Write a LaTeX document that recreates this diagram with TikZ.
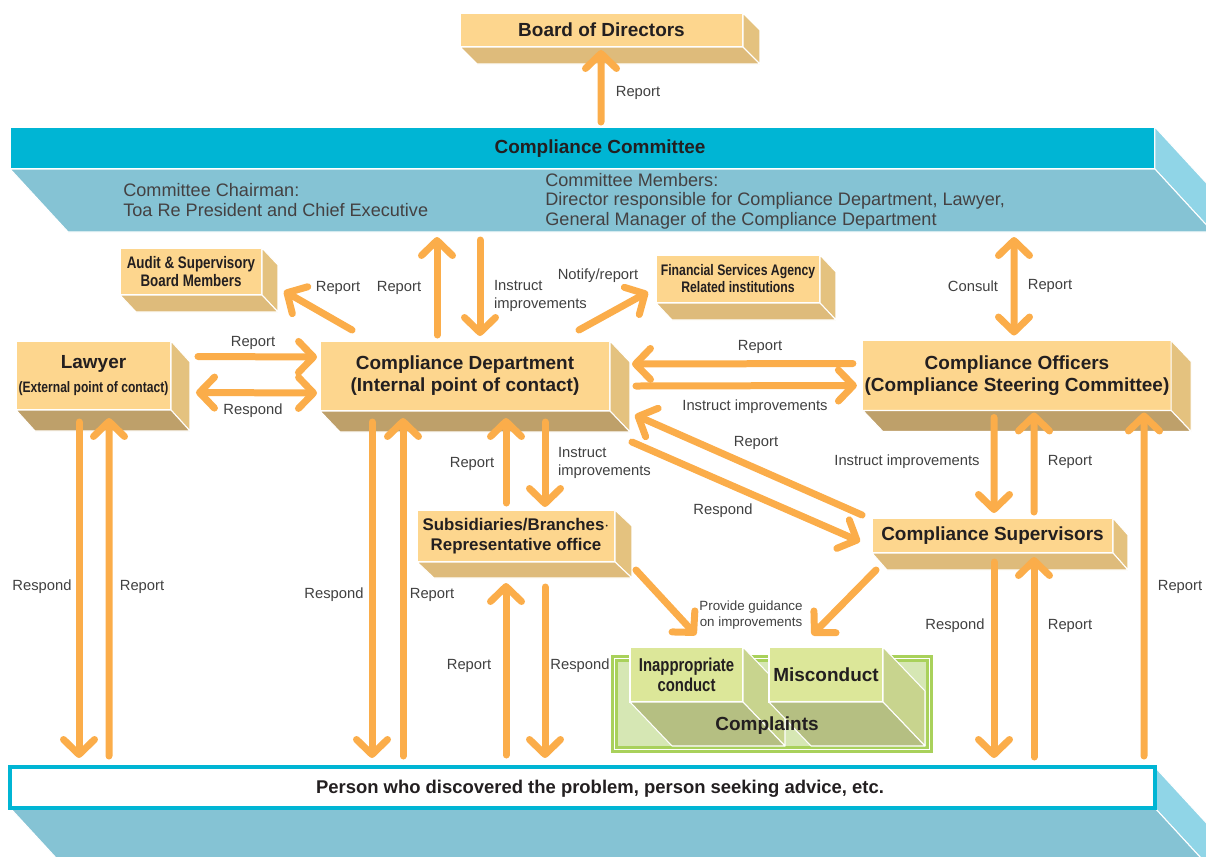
\documentclass[tikz,border=0pt]{standalone}
\usepackage{fontspec}
\setmainfont{Liberation Sans}
\newfontfamily\narrowfont{Liberation Sans}[FakeStretch=0.8]
\usetikzlibrary{arrows.meta,calc,backgrounds}

\definecolor{arrowc}{RGB}{251,173,74}
\definecolor{boxfront}{RGB}{253,214,142}
\definecolor{boxside}{RGB}{228,194,127}
\definecolor{boxbase}{RGB}{222,187,123}
\definecolor{boxbasedark}{RGB}{190,160,106}
\definecolor{cmtop}{RGB}{0,181,212}
\definecolor{cmbase}{RGB}{133,195,212}
\definecolor{cmside}{RGB}{144,213,231}
\definecolor{grborder}{RGB}{169,209,91}
\definecolor{grfill}{RGB}{214,231,180}
\definecolor{grfront}{RGB}{220,231,153}
\definecolor{grside}{RGB}{200,212,142}
\definecolor{grbase}{RGB}{181,191,130}
\definecolor{ink}{RGB}{35,31,32}
\definecolor{labink}{RGB}{64,64,64}

\newcommand{\slab}[5]{%
    \filldraw[fill=#4, draw=white, line width=0.6pt, line join=round]
        (#1.north east) -- ++(#2,#3) -- ($(#1.south east)+(#2,#3)$) -- (#1.south east) -- cycle;
    \filldraw[fill=#5, draw=white, line width=0.6pt, line join=round]
        (#1.south west) -- ($(#1.south west)+(#2,#3)$) -- ($(#1.south east)+(#2,#3)$) -- (#1.south east) -- cycle;
}

\begin{document}
\begin{tikzpicture}[
            x=0.02cm, y=-0.02cm,
            chev/.tip={Straight Barb[length=0.3cm,width=0.62cm,round]},
            arr/.style={draw=arrowc, line width=0.14cm, line cap=round, -chev},
            orgbox/.style={fill=boxfront, draw=white, line width=0.6pt, outer sep=0pt, inner sep=1pt,
                align=center, text=ink, font=\fontsize{10.8}{12.6}\selectfont\bfseries},
            narrowbox/.style={orgbox, font=\narrowfont\fontsize{#1}{#1}\selectfont\bfseries},
            greenbox/.style={orgbox, fill=grfront},
            lab/.style={text=labink, inner sep=1pt, font=\fontsize{8.4}{10}\selectfont},
            cmtext/.style={text=ink!85, inner sep=0pt, align=left, anchor=west,
                font=\fontsize{10.3}{11.2}\selectfont}
        ]
        \useasboundingbox (0,0) rectangle (1206,856);

        \node[orgbox, minimum width=5.66cm, minimum height=0.68cm] (board) at (601.5,30) {Board of Directors};
        \slab{board}{17}{17}{boxside}{boxbase}

        \node[orgbox, fill=cmtop, minimum width=22.9cm, minimum height=0.84cm] (committee) at (582.5,148) {};
        \slab{committee}{58}{63}{cmside}{cmbase}
        \node[text=ink, font=\fontsize{10.8}{12.6}\selectfont\bfseries] (cmname) at (600,149) {Compliance Committee};
        \node[cmtext] (chair) at (123,200) {Committee Chairman:\\Toa Re President and Chief Executive};
        \node[cmtext] (members) at (545,201) {Committee Members:\\Director responsible for Compliance Department, Lawyer,\\General Manager of the Compliance Department};

        \node[narrowbox=9.5, minimum width=2.84cm, minimum height=0.94cm] (audit) at (191,271.5) {Audit \& Supervisory\\[1pt]Board Members};
        \slab{audit}{16}{17}{boxside}{boxbase}

        \node[narrowbox=8.7, minimum width=3.28cm, minimum height=0.96cm] (fsa) at (738,279) {Financial Services Agency\\[1pt]Related institutions};
        \slab{fsa}{16}{17}{boxside}{boxbase}

        \node[orgbox, minimum width=3.1cm, minimum height=1.38cm] (lawyer) at (93.5,375.5)
            {Lawyer\\[1pt]{\narrowfont\fontsize{8.6}{10}\selectfont(External point of contact)}};
        \slab{lawyer}{19}{21}{boxside}{boxbasedark}

        \node[orgbox, minimum width=5.8cm, minimum height=1.4cm] (cd) at (465,376)
            {Compliance Department\\(Internal point of contact)};
        \slab{cd}{20}{21}{boxside}{boxbasedark}

        \node[orgbox, minimum width=5.8cm, minimum height=1.4cm] (officers) at (1017,375.5)
            {Compliance Officers\\(Compliance Steering Committee)};
        \slab{officers}{20}{21}{boxside}{boxbasedark}

        \node[orgbox, font=\fontsize{9.6}{11.2}\selectfont\bfseries, minimum width=3.96cm, minimum height=1.04cm] (subs) at (516,536)
            {Subsidiaries/Branches$\cdot$\\Representative office};
        \slab{subs}{17}{16}{boxside}{boxbase}

        \node[orgbox, minimum width=4.82cm, minimum height=0.7cm] (sup) at (992.5,535.5) {Compliance Supervisors};
        \slab{sup}{15}{17}{boxside}{boxbase}

        \node[fill=grfill, draw=grborder, line width=0.14cm, minimum width=6.3cm, minimum height=1.82cm] (frame) at (772,704) {};
        \draw[white, line width=0.6pt] ($(frame.south west)+(3.5,-3.5)$) rectangle ($(frame.north east)+(-3.5,3.5)$);
        \node[greenbox, font=\narrowfont\fontsize{10.6}{11.5}\selectfont\bfseries, minimum width=2.26cm, minimum height=1.1cm] (inapp) at (686.5,674.5)
            {Inappropriate\\conduct};
        \slab{inapp}{42}{44}{grside}{grbase}
        \node[greenbox, minimum width=2.28cm, minimum height=1.1cm] (misc) at (826,674.5) {Misconduct};
        \slab{misc}{42}{44}{grside}{grbase}
        \node[text=ink, font=\fontsize{10.8}{12.6}\selectfont\bfseries] (complaints) at (767,726) {Complaints};

        \node[fill=white, draw=cmtop, line width=0.08cm, outer sep=0pt, minimum width=22.9cm, minimum height=0.82cm] (person) at (582.5,787.5) {};
        \begin{scope}[on background layer]
            \slab{person}{58}{63}{cmside}{cmbase}
        \end{scope}
        \node[text=ink, font=\fontsize{10.5}{12}\selectfont\bfseries] (persontext) at (600,789)
            {Person who discovered the problem, person seeking advice, etc.};

        \draw[arr] ($(committee.north)+(18.5,-5)$) -- ($(board.south)+(-0.5,3)$);
        \draw[arr] ($(cd.north)+(-28,-6)$) -- ($(committee.south)+(-145.5,68)$);
        \draw[arr] ($(committee.south)+(-102.5,71)$) -- ($(cd.north)+(15,-5)$);
        \draw[arr] ($(cd.north west)+(32,-11)$) -- ($(audit.south east)+(22,-4)$);
        \draw[arr] ($(cd.north east)+(-31,-11)$) -- ($(fsa.south west)+(-8,-11)$);
        \draw[arr] ($(lawyer.east)+(27,-19)$) -- ($(cd.west)+(-3,-19)$);
        \draw[arr, chev-chev] ($(lawyer.east)+(25,17)$) -- ($(cd.west)+(-3,17)$);
        \draw[arr, chev-chev] ($(committee.south)+(431.5,68)$) -- ($(officers.north)+(-3,-5)$);
        \draw[arr] ($(officers.west)+(-10,-12)$) -- ($(cd.east)+(22,-12)$);
        \draw[arr] ($(cd.east)+(26,10)$) -- ($(officers.west)+(-6,10)$);
        \draw[arr] ($(sup.north west)+(-10,-3)$) -- ($(cd.south east)+(25,4)$);
        \draw[arr] ($(cd.south east)+(22,31)$) -- ($(sup.west)+(-12,6)$);
        \draw[arr] ($(officers.south)+(-23,7)$) -- ($(sup.north)+(1.5,-5)$);
        \draw[arr] ($(sup.north)+(41.5,-6)$) -- ($(officers.south)+(17,2)$);
        \draw[arr] ($(person.north)+(561.5,-11)$) -- ($(officers.south)+(127,2)$);
        \draw[arr] ($(sup.south)+(1.5,9)$) -- ($(person.north)+(411.5,-9)$);
        \draw[arr] ($(person.north)+(451.5,-10)$) -- ($(sup.south)+(41.5,4)$);
        \draw[arr] ($(lawyer.south)+(-14.5,12)$) -- ($(person.north)+(-503.5,-9)$);
        \draw[arr] ($(person.north)+(-473.5,-11)$) -- ($(lawyer.south)+(15.5,8)$);
        \draw[arr] ($(cd.south)+(-93,11)$) -- ($(person.north)+(-210.5,-9)$);
        \draw[arr] ($(person.north)+(-179.5,-11)$) -- ($(cd.south)+(-62,7)$);
        \draw[arr] ($(subs.north)+(-10,-7)$) -- ($(cd.south)+(41,7)$);
        \draw[arr] ($(cd.south)+(80,11)$) -- ($(subs.north)+(29,-3)$);
        \draw[arr] ($(person.north)+(-76.5,-12)$) -- ($(subs.south)+(-10,21)$);
        \draw[arr] ($(subs.south)+(29,25)$) -- ($(person.north)+(-37.5,-9)$);
        \draw[arr] ($(subs.south east)+(21,8)$) -- ($(inapp.north)+(9.5,-12)$);
        \draw[arr] ($(sup.south west)+(4,17)$) -- ($(misc.north)+(-14,-12)$);

        \node[lab] (l-board) at (638,93) {Report};
        \node[lab] (l-cdup) at (399,288) {Report};
        \node[lab, anchor=west, align=left] (l-cddown) at (492,296) {Instruct\\improvements};
        \node[lab] (l-audit) at (338,288) {Report};
        \node[lab] (l-fsa) at (598,276) {Notify/report};
        \node[lab] (l-lawrep) at (253,343) {Report};
        \node[lab] (l-lawresp) at (253,411) {Respond};
        \node[lab] (l-consult) at (973,286) {Consult};
        \node[lab] (l-offcm) at (1050,286) {Report};
        \node[lab] (l-offrep) at (760,347) {Report};
        \node[lab] (l-offins) at (755,407) {Instruct improvements};
        \node[lab] (l-suprep) at (756,443) {Report};
        \node[lab] (l-supresp) at (723,511) {Respond};
        \node[lab] (l-supins) at (907,462) {Instruct improvements};
        \node[lab] (l-supup) at (1070,462) {Report};
        \node[lab] (l-offper) at (1180,587) {Report};
        \node[lab] (l-supper) at (955,626) {Respond};
        \node[lab] (l-persup) at (1070,626) {Report};
        \node[lab] (l-lawper) at (42,587) {Respond};
        \node[lab] (l-perlaw) at (142,587) {Report};
        \node[lab] (l-cdper) at (334,595) {Respond};
        \node[lab] (l-percd) at (432,595) {Report};
        \node[lab] (l-subsup) at (472,464) {Report};
        \node[lab, anchor=west, align=left] (l-subsdown) at (556,463) {Instruct\\improvements};
        \node[lab] (l-persubs) at (469,666) {Report};
        \node[lab] (l-subsper) at (580,666) {Respond};
        \node[lab, align=center, font=\fontsize{7.6}{9.2}\selectfont] (l-guide) at (751,615) {Provide guidance\\on improvements};
    \end{tikzpicture}
\end{document}
